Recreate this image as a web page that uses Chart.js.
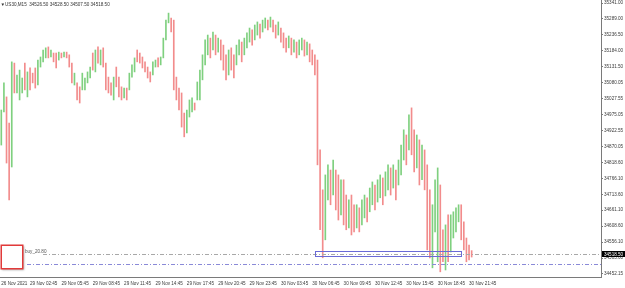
<!DOCTYPE html>
<html><head><meta charset="utf-8">
<script src="https://cdn.jsdelivr.net/npm/chart.js@4/dist/chart.umd.min.js"></script>
<style>html,body{margin:0;padding:0;background:#fff;}canvas{display:block;}</style>
</head><body>
<canvas id="c" width="625" height="288"></canvas>
<script>
const symbolTitle = "US30,M15  34526.50 34528.50 34507.50 34518.50";
const opens = [34898,35003,35000,34910,34870,35130,35058,35043,35056,35130,35050,35116,35106,35118,35088,35138,35155,35168,35191,35168,
35172,35170,35159,35175,35167,35177,35165,35134,35080,35071,35058,35067,35064,35086,35102,35169,35129,35189,35148,35185,
35131,35090,35073,35038,35121,35088,35060,35036,35056,35067,35106,35124,35181,35172,35159,35143,35126,35110,35114,35136,
35156,35143,35174,35233,35282,35285,35251,35087,35051,35029,34968,34930,34978,34993,35010,35035,35043,35105,35154,35184,
35216,35199,35226,35189,35210,35191,35159,35121,35183,35160,35151,35181,35203,35182,35204,35222,35245,35230,35245,35265,
35254,35266,35280,35269,35279,35263,35245,35252,35236,35219,35202,35218,35188,35205,35181,35195,35212,35179,35198,35180,
35161,35102,34820,34695,34606,34718,34776,34734,34773,34755,34669,34739,34694,34621,34691,34666,34618,34657,34629,34651,
34690,34671,34694,34732,34703,34717,34754,34724,34744,34787,34749,34778,34760,34797,34846,34893,34882,34974,34904,34822,
34870,34784,34839,34768,34695,34513,34624,34554,34701,34581,34495,34623,34548,34587,34606,34634,34662,34609,34558,34540,34526.5];
const highs = [34990,35079,35033,34947,35148,35144,35105,35121,35095,35144,35115,35128,35111,35128,35154,35164,35187,35194,35197,35187,
35177,35177,35180,35177,35180,35180,35171,35144,35111,35079,35066,35111,35095,35115,35131,35177,35187,35197,35187,35194,
35144,35098,35079,35098,35131,35098,35066,35062,35062,35111,35138,35161,35187,35177,35164,35148,35131,35115,35148,35154,
35161,35164,35226,35285,35308,35292,35285,35098,35062,35046,34980,34990,35023,35030,35013,35082,35121,35171,35220,35236,
35226,35246,35236,35226,35220,35203,35171,35187,35194,35171,35203,35220,35213,35226,35243,35259,35253,35269,35279,35272,
35285,35292,35285,35295,35285,35269,35279,35259,35243,35226,35233,35226,35220,35213,35220,35226,35220,35213,35207,35187,
35171,35154,34859,34728,34777,34810,34793,34826,34793,34777,34761,34761,34711,34695,34711,34679,34679,34669,34695,34711,
34702,34734,34754,34744,34761,34777,34767,34787,34810,34800,34810,34793,34826,34875,34925,34908,34974,34997,34925,34908,
34892,34875,34859,34810,34728,34679,34761,34800,34744,34597,34613,34646,34646,34656,34669,34679,34679,34623,34570,34547,34528.5];
const lows = [34875,34984,34816,34695,34803,35046,35046,35023,35046,35056,35033,35056,35079,35062,35072,35131,35148,35161,35161,35164,
35148,35128,35154,35161,35164,35161,35131,35079,35072,35023,35013,35056,35056,35079,35095,35121,35115,35144,35138,35131,
35056,35046,35039,35023,35066,35033,35023,35030,35023,35056,35098,35115,35148,35144,35128,35115,35095,35082,35105,35131,
35131,35138,35161,35220,35276,35246,35056,35023,34990,34934,34902,34915,34967,34984,34990,35023,35023,35089,35138,35171,
35161,35187,35171,35180,35154,35121,35089,35105,35121,35095,35138,35171,35148,35171,35194,35213,35203,35220,35236,35226,
35246,35259,35253,35262,35246,35226,35236,35213,35194,35180,35194,35171,35180,35161,35171,35187,35167,35171,35148,35138,
35105,34810,34597,34505,34564,34695,34679,34711,34662,34629,34646,34613,34597,34603,34580,34590,34603,34590,34613,34636,
34623,34656,34679,34662,34688,34702,34679,34708,34728,34711,34734,34695,34744,34777,34826,34810,34859,34843,34787,34800,
34744,34761,34728,34531,34505,34472,34590,34492,34459,34492,34465,34492,34524,34570,34590,34623,34564,34531,34492,34498,34507.5];
const closes = [34973,35065,34860,34745,35095,35065,35095,35106,35088,35074,35102,35070,35085,35075,35142,35159,35181,35189,35168,35184,
35154,35138,35176,35164,35178,35165,35139,35092,35105,35034,35024,35103,35089,35110,35126,35132,35176,35155,35180,35144,
35074,35056,35047,35087,35079,35046,35032,35057,35031,35103,35132,35154,35156,35151,35135,35122,35102,35089,35141,35151,
35137,35160,35216,35275,35303,35255,35102,35038,35004,34956,34918,34979,35015,35023,34995,35073,35106,35159,35208,35226,
35174,35237,35184,35219,35167,35137,35105,35175,35136,35110,35193,35213,35161,35218,35236,35252,35213,35262,35273,35235,
35279,35287,35259,35290,35254,35235,35273,35222,35204,35189,35227,35182,35214,35171,35213,35220,35178,35207,35160,35148,
35118,34879,34649,34550,34745,34793,34702,34809,34688,34659,34744,34643,34620,34681,34606,34608,34668,34606,34683,34700,
34639,34722,34743,34678,34750,34766,34697,34775,34798,34729,34799,34715,34814,34860,34910,34830,34957,34874,34815,34892,
34774,34858,34754,34587,34550,34648,34735,34754,34516,34513,34591,34523,34628,34643,34657,34671,34587,34549,34508,34510,34518.5];

const tickIndex = [0,11,23,35,47,59,71,83,95,107,119,131,143,155,167,179];
const tickText = ["26 Nov 2021","29 Nov 02:45","29 Nov 05:45","29 Nov 08:45","29 Nov 11:45","29 Nov 14:45","29 Nov 17:45","29 Nov 20:45","29 Nov 23:45","30 Nov 03:45","30 Nov 06:45","30 Nov 09:45","30 Nov 12:45","30 Nov 15:45","30 Nov 18:45","30 Nov 21:45"];
const yTicks = [35341.00,35289.00,35236.50,35184.00,35131.50,35080.05,35027.55,34975.05,34922.55,34870.05,34818.60,34766.10,34713.60,34661.10,34608.60,34556.10,34503.60,34452.15];
const slotCount = 230;
const bidPrice = 34518.50;
const orderLine = 34485.00;
const orderLabel = "buy_20.80";
const boxStart = 120, boxEnd = 176, boxTop = 34527.5, boxBottom = 34511.0;

const labels = Array.from({length: slotCount}, (_, i) => String(i));
const up = closes.map((c, i) => c >= opens[i]);
const col = up.map(u => u ? '#7fd07f' : '#f28c8c');
const FONT = {family: 'Liberation Sans', size: 4.6};

const overlay = {
  id: 'overlay',
  afterDatasetsDraw(chart) {
    const {ctx, chartArea: a, scales: {x, y}} = chart;
    ctx.save();
    ctx.lineWidth = 1;
    ctx.setLineDash([4, 2, 1, 2]);
    ctx.strokeStyle = '#a8a8a8';
    let yy = Math.round(y.getPixelForValue(bidPrice)) + 0.5;
    ctx.beginPath(); ctx.moveTo(43, yy); ctx.lineTo(a.right, yy); ctx.stroke();
    ctx.strokeStyle = '#8a8ad8';
    yy = Math.round(y.getPixelForValue(orderLine)) + 0.5;
    ctx.beginPath(); ctx.moveTo(27, yy); ctx.lineTo(a.right, yy); ctx.stroke();
    ctx.setLineDash([]);
    const x1 = Math.round(x.getPixelForValue(boxStart)) + 0.5;
    const x2 = Math.round(x.getPixelForValue(boxEnd)) + 0.5;
    const y1 = Math.round(y.getPixelForValue(boxTop)) + 0.5;
    const y2 = Math.round(y.getPixelForValue(boxBottom)) + 0.5;
    ctx.strokeStyle = '#6a6ad6';
    ctx.strokeRect(x1, y1, x2 - x1, y2 - y1);
    ctx.restore();
  },
  afterDraw(chart) {
    const {ctx, chartArea: a, scales: {y}} = chart;
    ctx.save();
    ctx.font = '4.6px "Liberation Sans"';
    ctx.textBaseline = 'middle';
    ctx.fillStyle = '#333';
    ctx.fillText('\u25BC', 0.5, 4.5);
    ctx.fillText(symbolTitle, 5, 4.5);
    ctx.fillStyle = '#555';
    ctx.fillText(orderLabel, 25, Math.round(y.getPixelForValue(bidPrice)) - 2);
    ctx.shadowColor = 'rgba(0,0,0,0.35)';
    ctx.shadowBlur = 2; ctx.shadowOffsetX = 1; ctx.shadowOffsetY = 1;
    ctx.fillStyle = '#ffffff';
    ctx.fillRect(1, 245, 22, 24);
    ctx.shadowColor = 'transparent';
    ctx.strokeStyle = '#e23a3a';
    ctx.lineWidth = 1.5;
    ctx.strokeRect(1.25, 245.25, 21.5, 23.5);
    const py = Math.round(y.getPixelForValue(bidPrice));
    ctx.fillStyle = '#000';
    ctx.fillRect(a.right + 1, py - 3, 624 - a.right, 6);
    ctx.fillStyle = '#fff';
    ctx.textAlign = 'left';
    ctx.fillText(bidPrice.toFixed(2), a.right + 3, py + 0.3);
    ctx.restore();
  }
};

new Chart(document.getElementById('c'), {
  type: 'bar',
  data: {
    labels,
    datasets: [
      {data: lows.map((l, i) => [l, highs[i]]), backgroundColor: col, barThickness: 1, grouped: false}
    ]
  },
  options: {
    responsive: false, animation: false, devicePixelRatio: 1,
    layout: {padding: 0},
    plugins: {legend: {display: false}, tooltip: {enabled: false}, title: {display: false}},
    scales: {
      x: {
        type: 'category', offset: true,
        grid: {display: false},
        border: {display: true, color: '#7a7a7a'},
        ticks: {autoSkip: false, maxRotation: 0, minRotation: 0, align: 'start', padding: -4, font: FONT, color: '#3a3a3a',
          callback: (v, i) => { const k = tickIndex.indexOf(i); return k >= 0 ? tickText[k] : ''; }},
        afterFit(s) { s.height = 11; s.paddingLeft = 0; s.paddingRight = 0; }
      },
      y: {
        position: 'right', min: 34442, max: 35351,
        afterBuildTicks(s) { s.ticks = yTicks.map(v => ({value: v})); },
        grid: {drawOnChartArea: false, tickLength: 2, color: '#7a7a7a'},
        border: {display: true, color: '#7a7a7a'},
        ticks: {font: FONT, color: '#3a3a3a', padding: 1, callback: v => Number(v).toFixed(2)},
        afterFit(s) { s.width = 24; s.paddingTop = 0; s.paddingBottom = 0; }
      }
    }
  },
  plugins: [overlay]
});
</script>
</body></html>
